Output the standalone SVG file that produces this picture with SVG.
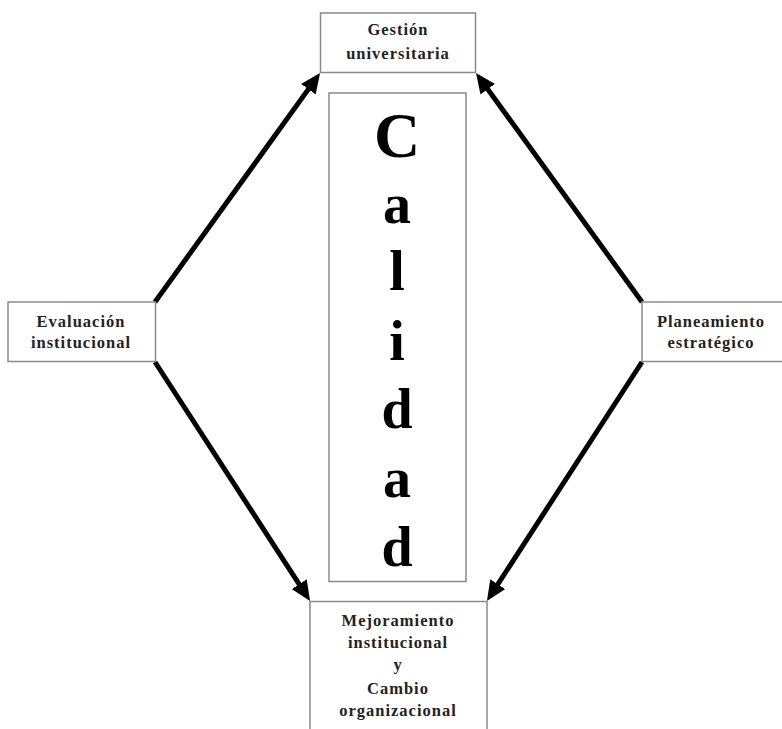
<svg xmlns="http://www.w3.org/2000/svg" width="782" height="729" viewBox="0 0 782 729">
<defs>
<style>
.box{fill:#fff;stroke:#8a8a8a;stroke-width:1.5}
.lbl{font-family:"Liberation Serif","Times New Roman",serif;font-weight:bold;font-size:16.5px;letter-spacing:1px;fill:#222;text-anchor:middle}
.big{font-family:"Liberation Serif","Times New Roman",serif;font-weight:bold;font-size:56px;fill:#000;text-anchor:middle}
.arr{stroke:#000;stroke-width:5;fill:none;marker-end:url(#ah)}
</style>
<marker id="ah" markerUnits="userSpaceOnUse" markerWidth="22" markerHeight="18" refX="10" refY="9" orient="auto">
<path d="M0,0 L20,9 L0,18 z" fill="#000"/>
</marker>
</defs>
<rect width="782" height="729" fill="#fff"/>
<g id="connectors">
<line class="arr" x1="155" y1="302" x2="314.2" y2="81.1"/>
<line class="arr" x1="642" y1="302" x2="481.9" y2="81.1"/>
<line class="arr" x1="155" y1="362" x2="304.6" y2="592.6"/>
<line class="arr" x1="642" y1="362" x2="492.4" y2="592.6"/>
</g>
<g id="gestion">
<rect class="box" x="320.5" y="13" width="155" height="59.5"/>
<text class="lbl" x="398" y="35">Gestión</text>
<text class="lbl" x="398" y="59">universitaria</text>
</g>
<g id="evaluacion">
<rect class="box" x="8" y="302" width="147.5" height="59.5"/>
<text class="lbl" x="81" y="327">Evaluación</text>
<text class="lbl" x="81" y="348">institucional</text>
</g>
<g id="planeamiento">
<rect class="box" x="642" y="302" width="150" height="59.5"/>
<text class="lbl" x="711" y="327">Planeamiento</text>
<text class="lbl" x="711" y="348">estratégico</text>
</g>
<g id="mejoramiento">
<rect class="box" x="310" y="601.5" width="177" height="140"/>
<text class="lbl" x="398" y="626">Mejoramiento</text>
<text class="lbl" x="398" y="648">institucional</text>
<text class="lbl" x="398" y="670">y</text>
<text class="lbl" x="398" y="694">Cambio</text>
<text class="lbl" x="398" y="716">organizacional</text>
</g>
<g id="calidad">
<rect class="box" x="329" y="93" width="137" height="488.5"/>
<text class="big" x="397" y="157" style="font-size:64px">C</text>
<text class="big" x="397" y="223">a</text>
<text class="big" x="397" y="290">l</text>
<text class="big" x="397" y="360">i</text>
<text class="big" x="397" y="428">d</text>
<text class="big" x="397" y="497">a</text>
<text class="big" x="397" y="566">d</text>
</g>
</svg>
